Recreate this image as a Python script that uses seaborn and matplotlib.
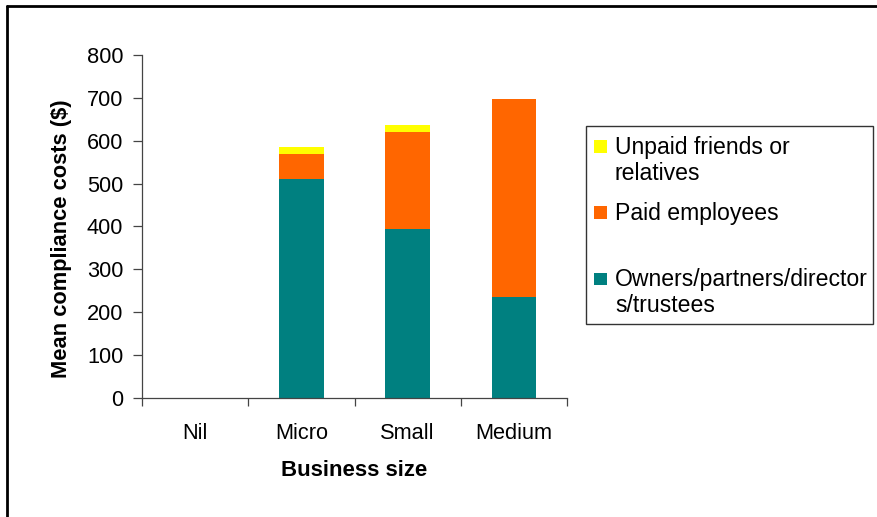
import matplotlib
matplotlib.use("Agg")
import matplotlib.pyplot as plt
from matplotlib.patches import Rectangle
from matplotlib.lines import Line2D
import seaborn as sns
import pandas as pd
import numpy as np

# Mean compliance costs by business size, split by who carried the work
sizes = ["Nil", "Micro", "Small", "Medium"]
owners = [0, 510, 394, 236]
paid = [0, 59, 226, 461]
unpaid = [0, 16, 16, 0]

series_names = ["Owners/partners/director\ns/trustees", "Paid employees", "Unpaid friends or\nrelatives"]
colors = ["#008080", "#FF6600", "#FFFF00"]
yticks = [0, 100, 200, 300, 400, 500, 600, 700, 800]

sns.set_style("white")
plt.rcParams["font.family"] = ["Liberation Sans", "DejaVu Sans"]
plt.rcParams.update({"text.color": "black", "axes.labelcolor": "black",
                     "xtick.labelcolor": "black", "ytick.labelcolor": "black"})

df = pd.DataFrame({"size": sizes, "owners": owners, "paid": paid, "unpaid": unpaid})
df["base_paid"] = df["owners"]
df["base_unpaid"] = df["owners"] + df["paid"]

W, H = 877, 517
fig = plt.figure(figsize=(W / 100, H / 100), dpi=100)
ax = fig.add_axes([142 / W, 119 / H, 425 / W, 343 / H])

layers = [("owners", None), ("paid", "base_paid"), ("unpaid", "base_unpaid")]
for (col, base), color in zip(layers, colors):
    kw = {} if base is None else {"bottom": df[base].to_numpy()}
    sns.barplot(data=df, x="size", y=col, color=color, width=0.42,
                saturation=1, edgecolor="none", linewidth=0, ax=ax, **kw)

ax.set_xlim(-0.5, len(sizes) - 0.5)
ax.set_ylim(0, 800)
ax.set_yticks(yticks)
ax.set_yticklabels([str(v) for v in yticks], fontsize=15.7)
ax.set_xticks(range(len(sizes)))
ax.set_xticklabels(sizes, fontsize=15.7)
ax.tick_params(axis="x", length=0, pad=18, labelcolor="black")
ax.tick_params(axis="y", direction="out", length=6.5, width=0.9, color="#444444", pad=7,
               left=True, labelcolor="black")

# category boundary ticks on the x axis
ax.set_xticks(np.arange(-0.5, len(sizes)), minor=True)
ax.tick_params(axis="x", which="minor", direction="out", length=6, width=0.9, color="#444444", bottom=True)

for side in ("top", "right"):
    ax.spines[side].set_visible(False)
for side in ("left", "bottom"):
    ax.spines[side].set_color("#444444")
    ax.spines[side].set_linewidth(0.9)

ax.set_xlabel("Business size", fontsize=16, fontweight="bold", color="black")
ax.xaxis.set_label_coords(0.5, (398 - 470) / 343)
ax.xaxis.label.set_va("center")
ax.set_ylabel("Mean compliance costs ($)", fontsize=15.75, fontweight="bold", color="black")
ax.yaxis.set_label_coords((62 - 142) / 425, (398 - 239) / 343)
ax.yaxis.label.set_va("center")
ax.yaxis.label.set_ha("center")

# legend box, top series first, evenly spaced entries
def px(x, y):
    return x / W, 1 - y / H

x0, y0 = px(586, 324)
x1, y1 = px(873, 126)
fig.add_artist(Rectangle((x0, y0), x1 - x0, y1 - y0, transform=fig.transFigure,
                         facecolor="white", edgecolor="#333333", lw=1.0))
first_baseline, entry_step, line_step = 154, 66, 26.5
for i, (name, color) in enumerate(zip(series_names[::-1], colors[::-1])):
    base = first_baseline + i * entry_step
    sx, sy = px(594, base - 1)
    fig.add_artist(Rectangle((sx, sy), 13 / W, 12.5 / H, transform=fig.transFigure,
                             facecolor=color, edgecolor="none"))
    for j, line in enumerate(name.split("\n")):
        tx, ty = px(615, base + j * line_step)
        fig.text(tx, ty, line, fontsize=16.6, va="baseline", ha="left", color="black")

# outer frame of the chart area
fig.add_artist(Line2D([7 / W, 7 / W], [0, 1 - 6 / H], transform=fig.transFigure, color="black", lw=2))
fig.add_artist(Line2D([7 / W, 1], [1 - 6 / H, 1 - 6 / H], transform=fig.transFigure, color="black", lw=2))

fig.savefig("out.png", dpi=100)
